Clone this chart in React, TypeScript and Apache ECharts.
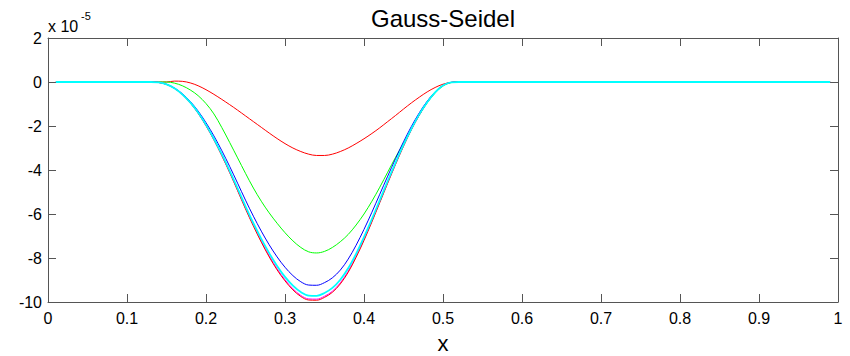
import React, { useEffect, useRef } from "react";
import * as echarts from "echarts";

const xs = [0.01, 0.13, 0.14, 0.15, 0.16, 0.17, 0.18, 0.19, 0.2, 0.21, 0.22, 0.23, 0.24, 0.25, 0.26, 0.27, 0.28, 0.29, 0.3, 0.31, 0.32, 0.33, 0.34, 0.35, 0.36, 0.37, 0.38, 0.39, 0.4, 0.41, 0.42, 0.43, 0.44, 0.45, 0.46, 0.47, 0.48, 0.49, 0.5, 0.51, 0.52, 0.99];

const iterRed1 = [0, 0, 0, 0, 0.04, 0.03, -0.04, -0.17, -0.35, -0.56, -0.79, -1.03, -1.28, -1.54, -1.8, -2.06, -2.32, -2.57, -2.8, -3.0, -3.16, -3.28, -3.34, -3.34, -3.28, -3.16, -3.0, -2.8, -2.58, -2.34, -2.08, -1.8, -1.52, -1.23, -0.95, -0.69, -0.45, -0.25, -0.1, -0.02, 0, 0];
const iterGreen = [0, 0, 0, 0, -0.05, -0.17, -0.36, -0.62, -0.98, -1.45, -2.07, -2.75, -3.45, -4.15, -4.82, -5.42, -5.95, -6.42, -6.85, -7.22, -7.52, -7.72, -7.77, -7.7, -7.52, -7.26, -6.93, -6.5, -6.0, -5.42, -4.78, -4.1, -3.42, -2.78, -2.12, -1.5, -0.95, -0.5, -0.18, -0.03, 0, 0];
const iterBlue = [0, 0, -0.02, -0.1, -0.27, -0.53, -0.88, -1.32, -1.85, -2.45, -3.12, -3.84, -4.6, -5.37, -6.1, -6.78, -7.4, -7.95, -8.42, -8.8, -9.08, -9.23, -9.24, -9.12, -8.9, -8.55, -8.05, -7.42, -6.7, -5.92, -5.1, -4.28, -3.48, -2.72, -2.02, -1.4, -0.87, -0.45, -0.15, -0.02, 0, 0];
const iterMagenta = [0, 0, -0.02, -0.11, -0.29, -0.57, -0.94, -1.41, -1.98, -2.62, -3.33, -4.1, -4.91, -5.74, -6.51, -7.24, -7.9, -8.49, -8.99, -9.4, -9.7, -9.86, -9.87, -9.74, -9.51, -9.13, -8.6, -7.92, -7.16, -6.32, -5.45, -4.57, -3.72, -2.9, -2.16, -1.5, -0.93, -0.48, -0.16, -0.02, 0, 0];
const iterRed2 = [0, 0, -0.02, -0.11, -0.29, -0.57, -0.95, -1.42, -1.99, -2.63, -3.35, -4.12, -4.94, -5.77, -6.55, -7.28, -7.95, -8.54, -9.04, -9.45, -9.75, -9.91, -9.92, -9.79, -9.56, -9.18, -8.65, -7.97, -7.2, -6.36, -5.48, -4.6, -3.74, -2.92, -2.17, -1.5, -0.93, -0.48, -0.16, -0.02, 0, 0];
const iterCyan = [0, 0, -0.02, -0.11, -0.28, -0.56, -0.93, -1.39, -1.95, -2.58, -3.28, -4.04, -4.84, -5.65, -6.42, -7.13, -7.78, -8.36, -8.86, -9.26, -9.55, -9.71, -9.72, -9.59, -9.36, -8.99, -8.47, -7.81, -7.05, -6.23, -5.37, -4.5, -3.66, -2.86, -2.13, -1.47, -0.92, -0.47, -0.16, -0.02, 0, 0];

const seriesList = [
  { name: "it1", values: iterRed1, color: "#ff0000", width: 1 },
  { name: "it2", values: iterGreen, color: "#00ff00", width: 1 },
  { name: "it3", values: iterBlue, color: "#0000ff", width: 1 },
  { name: "it4", values: iterMagenta, color: "#ff00ff", width: 1 },
  { name: "it5", values: iterRed2, color: "#ff0000", width: 1 },
  { name: "it6", values: iterCyan, color: "#00ffff", width: 1.8 },
];

const FONT = "Liberation Sans, Arial, sans-serif";
const AX = "#555555";

export default function App() {
  const ref = useRef<HTMLDivElement>(null);
  useEffect(() => {
    if (!ref.current) return;
    const chart = echarts.init(ref.current, undefined, { renderer: "svg" });
    const axisCommon = {
      axisLine: { show: true, onZero: false, lineStyle: { color: AX, width: 1 } },
      axisTick: { show: true, inside: true, length: 8, lineStyle: { color: AX } },
      splitLine: { show: false },
    };
    chart.setOption({
      animation: false,
      backgroundColor: "#ffffff",
      title: {
        text: "Gauss-Seidel",
        left: 438,
        textAlign: "center",
        top: 1,
        textStyle: { fontFamily: FONT, fontSize: 24, fontWeight: "normal", color: "#000" },
      },
      grid: { left: 48, right: 12, top: 38, bottom: 54, outerBoundsMode: "none", containLabel: false },
      xAxis: [
        {
          type: "value",
          min: 0,
          max: 1,
          interval: 0.1,
          position: "bottom",
          ...axisCommon,
          axisLabel: { color: "#000", fontFamily: FONT, fontSize: 16, margin: 8 },
          name: "x",
          nameLocation: "middle",
          nameGap: 30,
          nameTextStyle: { color: "#000", fontFamily: FONT, fontSize: 22 },
        },
        {
          type: "value",
          min: 0,
          max: 1,
          interval: 0.1,
          position: "top",
          ...axisCommon,
          axisLabel: { show: false },
        },
      ],
      yAxis: [
        {
          type: "value",
          min: -10,
          max: 2,
          interval: 2,
          position: "left",
          ...axisCommon,
          axisLabel: { color: "#000", fontFamily: FONT, fontSize: 16, margin: 6 },
        },
        {
          type: "value",
          min: -10,
          max: 2,
          interval: 2,
          position: "right",
          ...axisCommon,
          axisLabel: { show: false },
        },
      ],
      graphic: [
        {
          type: "text",
          left: 48,
          top: 18,
          style: { text: "x 10", fontFamily: FONT, fontSize: 16, fill: "#000" },
        },
        {
          type: "text",
          left: 81,
          top: 10,
          style: { text: "-5", fontFamily: FONT, fontSize: 11, fill: "#000" },
        },
      ],
      series: seriesList.map((s) => ({
        name: s.name,
        type: "line",
        xAxisIndex: 0,
        yAxisIndex: 0,
        data: xs.map((x, i) => [x, s.values[i]]),
        showSymbol: false,
        smooth: 0.35,
        lineStyle: { color: s.color, width: s.width },
        itemStyle: { color: s.color },
      })),
    });
    return () => chart.dispose();
  }, []);
  return <div ref={ref} style={{ width: 850, height: 356, position: "absolute", left: 0, top: 0 }} />;
}
